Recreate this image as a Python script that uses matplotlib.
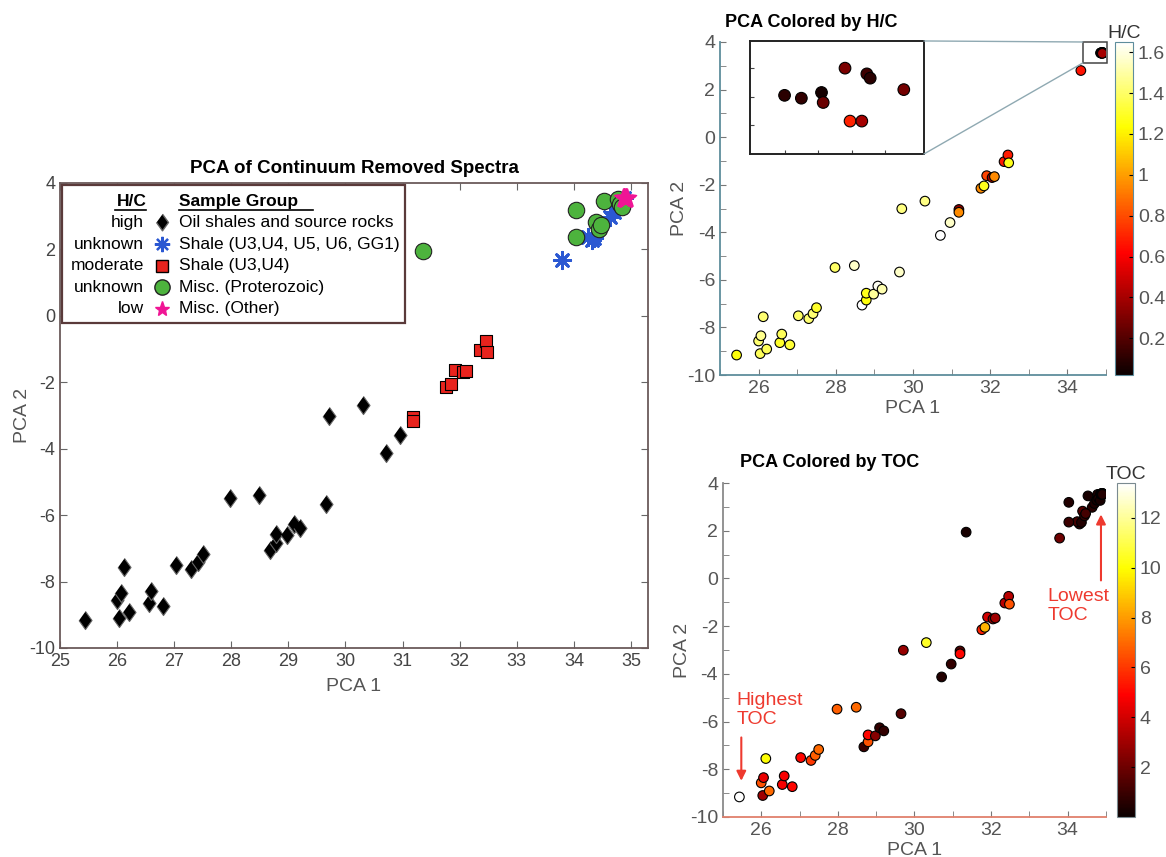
import matplotlib
matplotlib.use('Agg')
import matplotlib.pyplot as plt
import numpy as np
from matplotlib.patches import Rectangle, ConnectionPatch
from matplotlib.ticker import MultipleLocator

plt.rcParams['font.family'] = ['Liberation Sans', 'DejaVu Sans']
plt.rcParams['axes.unicode_minus'] = False

# --- data ---
# oil shales and source rocks (diamonds)
dia_x = [25.43, 26.04, 26.00, 26.06, 26.12, 26.21, 26.55, 26.60, 26.81, 27.03, 27.30, 27.41, 27.50,
         27.98, 28.48, 28.68, 28.79, 28.79, 28.98, 29.09, 29.20, 29.65, 29.71, 30.31, 30.71, 30.96]
dia_y = [-9.16, -9.10, -8.57, -8.35, -7.55, -8.91, -8.64, -8.28, -8.73, -7.51, -7.63, -7.42, -7.17,
         -5.48, -5.40, -7.06, -6.85, -6.56, -6.60, -6.26, -6.39, -5.67, -3.01, -2.69, -4.13, -3.59]
dia_hc = [1.25, 1.38, 1.42, 1.46, 1.42, 1.38, 1.30, 1.38, 1.32, 1.40, 1.42, 1.42, 1.30,
          1.40, 1.56, 1.65, 1.25, 1.28, 1.48, 1.63, 1.52, 1.56, 1.44, 1.45, 1.65, 1.56]
dia_toc = [13.4, 3.0, 6.5, 4.5, 10.0, 7.0, 4.8, 4.8, 5.0, 5.0, 6.0, 6.8, 7.0,
           6.8, 7.0, 1.0, 6.5, 5.0, 2.5, 0.8, 0.8, 1.5, 2.8, 10.5, 0.5, 0.8]

# shale U3,U4 (squares)
sq_x = [31.19, 31.19, 31.76, 31.84, 31.91, 32.05, 32.11, 32.36, 32.46, 32.48]
sq_y = [-3.04, -3.16, -2.15, -2.05, -1.62, -1.70, -1.66, -1.03, -0.75, -1.08]
sq_hc = [0.35, 0.95, 0.95, 1.28, 0.78, 0.40, 0.95, 0.68, 0.68, 1.28]
sq_toc = [1.5, 5.0, 5.5, 8.5, 4.0, 2.8, 3.0, 3.5, 3.5, 6.5]

# shale U3,U4,U5,U6,GG1 (asterisks)
blu_x = [33.79, 34.31, 34.25, 34.36, 34.64, 34.70, 34.76, 34.84, 34.88]
blu_y = [1.69, 2.28, 2.38, 2.35, 2.98, 3.14, 3.28, 3.42, 3.55]
blu_toc = [2.0, 0.8, 1.2, 0.5, 0.6, 0.4, 0.3, 0.3, 0.2]

# misc. proterozoic (circles)
grn_x = [31.35, 34.03, 34.03, 34.53, 34.39, 34.44, 34.47, 34.78, 34.81, 34.85]
grn_y = [1.94, 3.19, 2.36, 3.46, 2.82, 2.62, 2.72, 3.52, 3.36, 3.27]
grn_toc = [0.3, 0.5, 1.0, 0.3, 1.5, 0.8, 1.2, 0.4, 0.6, 0.3]

# misc. other (stars)
pnk_x = [34.860, 34.870, 34.882, 34.883, 34.896, 34.909, 34.911, 34.931, 34.899, 34.906]
pnk_y = [3.541, 3.539, 3.543, 3.536, 3.560, 3.556, 3.553, 3.545, 3.523, 3.523]
pnk_hc = [0.10, 0.12, 0.05, 0.25, 0.30, 0.15, 0.10, 0.28, 0.70, 0.40]
pnk_toc = [0.3, 0.2, 0.4, 0.3, 0.5, 0.2, 0.3, 0.4, 0.6, 0.5]

# extra H/C point
ext_x = [34.35]
ext_y = [2.80]
ext_hc = [0.66]

hc_lim = (0.02, 1.65)
toc_lim = (0.0, 13.4)

fig = plt.figure(figsize=(11.66, 8.57), dpi=100)

# ---------------- main PCA plot ----------------
ax = fig.add_axes([0.0515, 0.2439, 0.5043, 0.5426])
dia_mark = [(0, 1), (0.72, 0), (0, -1), (-0.72, 0)]
ax.scatter(dia_x, dia_y, s=170, marker=dia_mark,
           c='black', edgecolors='#666666', linewidths=0.8, zorder=3)
ax.scatter(sq_x, sq_y, s=80, marker='s', c='#e8231d', edgecolors='black', linewidths=0.8, zorder=3)
ax.scatter(blu_x, blu_y, s=140, marker=(8, 2, 0), c='#2b58d2', linewidths=2, zorder=3)
ax.scatter(grn_x, grn_y, s=140, marker='o', c='#4db33d', edgecolors='#222222', linewidths=0.8, zorder=3)
ax.scatter(pnk_x, pnk_y, s=190, marker='*', c='#f01595', edgecolors='#f01595', zorder=4)
ax.set_xlim(25, 35.3)
ax.set_ylim(-10, 4)
ax.set_xticks(range(25, 36))
ax.set_yticks(range(-10, 5, 2))
ax.tick_params(direction='in', top=True, right=True, labelsize=13, labelcolor='#444444',
               color='#666666', length=5)
for sp in ax.spines.values():
    sp.set_color('#6b5a5a')
    sp.set_linewidth(1.3)
ax.set_xlabel('PCA 1', fontsize=14, color='#555555', labelpad=6)
ax.set_ylabel('PCA 2', fontsize=14, color='#555555', labelpad=-1)
ax.set_title('PCA of Continuum Removed Spectra', fontsize=13.5, fontweight='bold', pad=7)

# legend drawn as a table
ax.add_patch(Rectangle((0.004, 0.699), 0.583, 0.297, transform=ax.transAxes, facecolor='white',
                       edgecolor='#5a3a3a', lw=1.6, zorder=5))
tf = ax.transAxes
ax.text(0.147, 0.961, 'H/C', transform=tf, ha='right', va='center', fontsize=12.5,
        fontweight='bold', zorder=6)
ax.text(0.203, 0.961, 'Sample Group', transform=tf, ha='left', va='center', fontsize=12.5,
        fontweight='bold', zorder=6)
ax.plot([0.093, 0.147], [0.942, 0.942], transform=tf, color='black', lw=1.2, zorder=6)
ax.plot([0.203, 0.430], [0.942, 0.942], transform=tf, color='black', lw=1.2, zorder=6)

hc_words = ['high', 'unknown', 'moderate', 'unknown', 'low']
groups = ['Oil shales and source rocks', 'Shale (U3,U4, U5, U6, GG1)', 'Shale (U3,U4)',
          'Misc. (Proterozoic)', 'Misc. (Other)']
rows_y = [0.915, 0.868, 0.822, 0.776, 0.729]
leg_style = [
    dict(marker=dia_mark, ms=12, mfc='black', mec='#666666'),
    dict(marker=(8, 2, 0), ms=11, color='#2b58d2', mew=1.6),
    dict(marker='s', ms=8.5, mfc='#e8231d', mec='black'),
    dict(marker='o', ms=11, mfc='#4db33d', mec='#222222'),
    dict(marker='*', ms=11, mfc='#f01595', mec='#f01595'),
]
for w, g, yy, st in zip(hc_words, groups, rows_y, leg_style):
    ax.text(0.143, yy, w, transform=tf, ha='right', va='center', fontsize=12.5, zorder=6)
    ax.text(0.203, yy, g, transform=tf, ha='left', va='center', fontsize=12.5, zorder=6)
    ax.plot([0.174], [yy], transform=tf, linestyle='none', clip_on=False, zorder=6, **st)

# ---------------- helper for the coloured plots ----------------
def style_small(a, spine_l, spine_b):
    a.set_xlim(25, 35)
    a.set_ylim(-10, 4)
    a.xaxis.set_major_locator(MultipleLocator(2))
    a.xaxis.set_minor_locator(MultipleLocator(1))
    a.yaxis.set_major_locator(MultipleLocator(2))
    a.yaxis.set_minor_locator(MultipleLocator(1))
    a.set_xticks([26, 28, 30, 32, 34])
    a.spines['top'].set_visible(False)
    a.spines['right'].set_visible(False)
    a.spines['left'].set_color(spine_l)
    a.spines['bottom'].set_color(spine_b)
    a.spines['left'].set_linewidth(1.3)
    a.spines['bottom'].set_linewidth(1.3)
    a.tick_params(which='both', direction='in', length=4, color='#777777',
                  labelsize=14, labelcolor='#555555')
    a.set_xlabel('PCA 1', fontsize=14, color='#555555', labelpad=2)
    a.set_ylabel('PCA 2', fontsize=14, color='#555555', labelpad=-1)

# ---------------- PCA coloured by H/C ----------------
ax2 = fig.add_axes([0.6175, 0.5624, 0.331, 0.3886])
hc_x = dia_x + sq_x + ext_x + pnk_x
hc_y = dia_y + sq_y + ext_y + pnk_y
hc_c = dia_hc + sq_hc + ext_hc + pnk_hc
sc2 = ax2.scatter(hc_x, hc_y, c=hc_c, cmap='hot', vmin=hc_lim[0], vmax=hc_lim[1], s=48,
                  edgecolors='black', linewidths=0.8, zorder=3)
style_small(ax2, '#5e8d9c', '#5e8d9c')
ax2.text(0.013, 1.06, 'PCA Colored by H/C', transform=ax2.transAxes, fontsize=13,
         fontweight='bold', ha='left', va='center')
ax2.add_patch(Rectangle((34.4, 3.12), 0.62, 0.88, facecolor='none', edgecolor='#444444',
                        lw=1.1, clip_on=False, zorder=4))

cax2 = fig.add_axes([0.9563, 0.5624, 0.0154, 0.3886])
cb2 = fig.colorbar(sc2, cax=cax2)
cb2.set_ticks([0.2, 0.4, 0.6, 0.8, 1.0, 1.2, 1.4, 1.6])
cb2.set_ticklabels(['0.2', '0.4', '0.6', '0.8', '1', '1.2', '1.4', '1.6'])
cb2.outline.set_edgecolor('#5e8d9c')
cb2.ax.tick_params(labelsize=14, labelcolor='#555555', direction='in', length=3)
cax2.set_title('H/C', fontsize=14, pad=1, color='#333333')

# inset zoom of the star cluster
axi = fig.add_axes([0.6432, 0.8203, 0.1492, 0.1319])
axi.scatter(pnk_x, pnk_y, c=pnk_hc, cmap='hot', vmin=hc_lim[0], vmax=hc_lim[1], s=70,
            edgecolors='black', linewidths=0.8)
axi.set_xlim(34.8394, 34.943)
axi.set_ylim(3.50, 3.579)
axi.set_xticks([34.86, 34.88, 34.90, 34.92])
axi.set_yticks([3.52, 3.54, 3.56])
axi.tick_params(direction='in', length=3, labelbottom=False, labelleft=False, color='#444444')
for sp in axi.spines.values():
    sp.set_color('#222222')
    sp.set_linewidth(1.4)
for ya, yb in [(1, 4.0), (0, 3.12)]:
    con = ConnectionPatch(xyA=(1, ya), coordsA=axi.transAxes, xyB=(34.4, yb),
                          coordsB=ax2.transData, color='#8fa9b2', lw=1)
    fig.add_artist(con)

# ---------------- PCA coloured by TOC ----------------
ax3 = fig.add_axes([0.620, 0.0467, 0.3285, 0.3897])
toc_x = dia_x + sq_x + blu_x + grn_x + pnk_x
toc_y = dia_y + sq_y + blu_y + grn_y + pnk_y
toc_c = dia_toc + sq_toc + blu_toc + grn_toc + pnk_toc
sc3 = ax3.scatter(toc_x, toc_y, c=toc_c, cmap='hot', vmin=toc_lim[0], vmax=toc_lim[1], s=48,
                  edgecolors='black', linewidths=0.8, zorder=3)
style_small(ax3, '#8a8a8a', '#e0806c')
ax3.text(0.044, 1.06, 'PCA Colored by TOC', transform=ax3.transAxes, fontsize=13,
         fontweight='bold', ha='left', va='center')
ax3.annotate('', xy=(25.48, -8.6), xytext=(25.48, -6.55),
             arrowprops=dict(arrowstyle='-|>', color='#ee3a2f', lw=1.5, mutation_scale=14))
ax3.text(25.35, -5.5, 'Highest\nTOC', color='#ee3a2f', fontsize=14, ha='left', va='center',
         linespacing=1.15)
ax3.annotate('', xy=(34.87, 2.8), xytext=(34.87, -0.2),
             arrowprops=dict(arrowstyle='-|>', color='#ee3a2f', lw=1.5, mutation_scale=14))
ax3.text(33.47, -1.15, 'Lowest\nTOC', color='#ee3a2f', fontsize=14, ha='left', va='center',
         linespacing=1.15)

cax3 = fig.add_axes([0.958, 0.0467, 0.0154, 0.3897])
cb3 = fig.colorbar(sc3, cax=cax3)
cb3.set_ticks([2, 4, 6, 8, 10, 12])
cb3.outline.set_edgecolor('#7a8a90')
cb3.ax.tick_params(labelsize=14, labelcolor='#555555', direction='in', length=3)
cax3.set_title('TOC', fontsize=14, pad=1, color='#333333')

fig.savefig('out.png', dpi=100)
